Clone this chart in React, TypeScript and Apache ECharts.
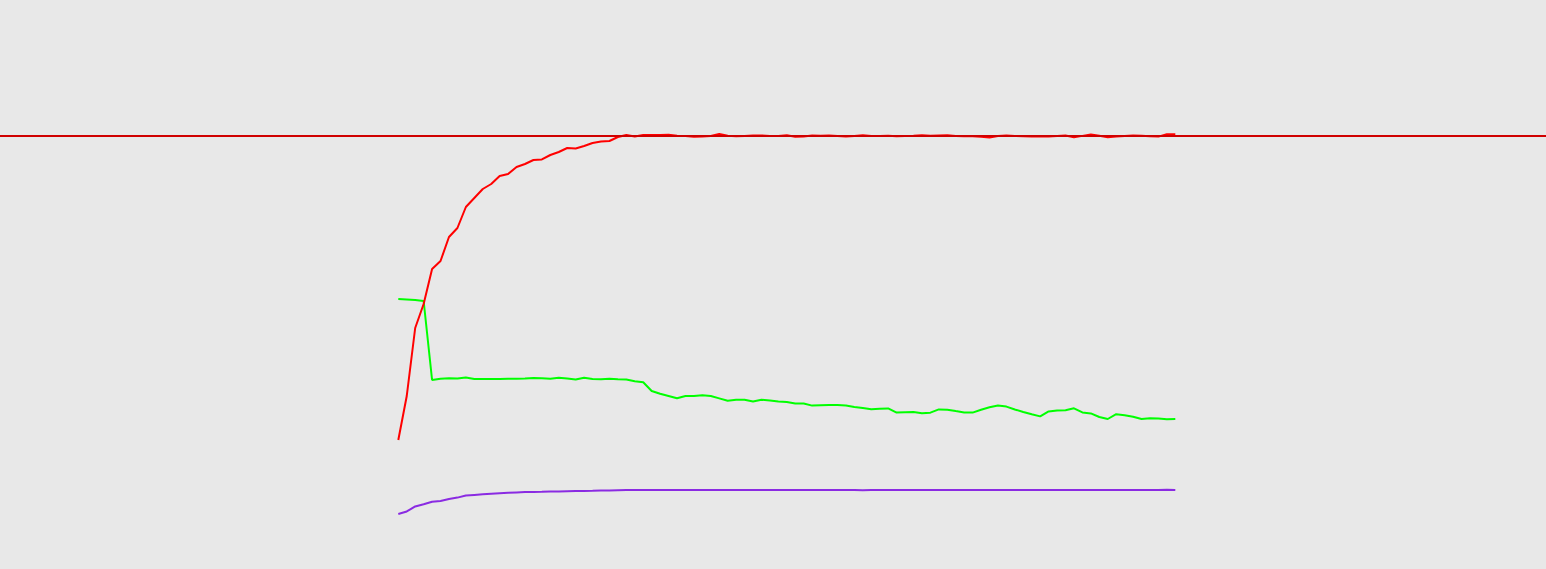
import React, { useEffect, useRef } from "react";
import * as echarts from "echarts";

const epochs: number[] = [
  1, 2, 3, 4, 5, 6, 7, 8, 9, 10, 11, 12, 13, 14, 15, 16, 17, 18, 19, 20,
  21, 22, 23, 24, 25, 26, 27, 28, 29, 30, 31, 32, 33, 34, 35, 36, 37, 38, 39, 40,
  41, 42, 43, 44, 45, 46, 47, 48, 49, 50, 51, 52, 53, 54, 55, 56, 57, 58, 59, 60,
  61, 62, 63, 64, 65, 66, 67, 68, 69, 70, 71, 72, 73, 74, 75, 76, 77, 78, 79, 80,
  81, 82, 83, 84, 85, 86, 87, 88, 89, 90, 91, 92, 93,
];

const redSeries: number[] = [
  24, 35, 52, 58, 66.75, 68.75, 74.75, 77, 82.25, 84.5,
  86.75, 88, 90, 90.5, 92.25, 93, 94, 94.13, 95.25, 96,
  97, 96.88, 97.5, 98.25, 98.63, 98.75, 99.75, 100.25, 99.88, 100.25,
  100.25, 100.25, 100.33, 100.05, 100, 99.8, 99.88, 100, 100.5, 100.05,
  99.95, 100, 100.1, 100.15, 100, 100, 100.18, 99.8, 99.88, 100.1,
  100.05, 100.13, 100, 99.9, 100, 100.18, 100, 100, 100.05, 99.93,
  99.98, 100.05, 100.18, 100.05, 100.13, 100.18, 100, 99.93, 99.93, 99.8,
  99.65, 100, 100.13, 100.03, 99.93, 99.9, 99.85, 99.85, 100, 100.1,
  99.68, 100.03, 100.35, 100.05, 99.7, 99.9, 100.03, 100.13, 100.08, 99.95,
  99.85, 100.45, 100.45,
];

const greenSeries: number[] = [
  59.25, 59.13, 59, 58.75, 39, 39.33, 39.43, 39.35, 39.65, 39.25,
  39.25, 39.25, 39.25, 39.33, 39.33, 39.35, 39.48, 39.43, 39.33, 39.55,
  39.38, 39.1, 39.55, 39.25, 39.2, 39.3, 39.18, 39.1, 38.7, 38.45,
  36.25, 35.55, 35, 34.45, 35, 35, 35.18, 35, 34.4, 33.8,
  34.05, 34.08, 33.63, 34.05, 33.88, 33.63, 33.5, 33.1, 33.13, 32.6,
  32.68, 32.75, 32.75, 32.6, 32.25, 32, 31.68, 31.8, 31.9, 30.85,
  30.95, 30.98, 30.68, 30.83, 31.65, 31.58, 31.23, 30.9, 30.85, 31.58,
  32.18, 32.6, 32.35, 31.63, 31, 30.43, 29.9, 31.15, 31.38, 31.45,
  31.93, 30.9, 30.65, 29.75, 29.25, 30.45, 30.2, 29.8, 29.25, 29.43,
  29.4, 29.18, 29.25,
];

const purpleSeries: number[] = [
  5.5, 6.13, 7.38, 7.93, 8.58, 8.75, 9.25, 9.6, 10.13, 10.28,
  10.43, 10.58, 10.7, 10.8, 10.9, 10.98, 11.03, 11.05, 11.1, 11.13,
  11.2, 11.25, 11.28, 11.3, 11.35, 11.38, 11.43, 11.48, 11.5, 11.48,
  11.5, 11.5, 11.48, 11.5, 11.5, 11.5, 11.48, 11.48, 11.5, 11.5,
  11.48, 11.5, 11.48, 11.5, 11.5, 11.48, 11.5, 11.5, 11.48, 11.48,
  11.5, 11.5, 11.48, 11.5, 11.5, 11.45, 11.48, 11.5, 11.5, 11.5,
  11.5, 11.48, 11.48, 11.5, 11.5, 11.5, 11.5, 11.5, 11.48, 11.48,
  11.5, 11.52, 11.5, 11.5, 11.5, 11.5, 11.5, 11.5, 11.5, 11.48,
  11.5, 11.5, 11.48, 11.5, 11.5, 11.5, 11.5, 11.5, 11.48, 11.5,
  11.5, 11.55, 11.5,
];

const referenceLevel = 100;

export default function App() {
  const ref = useRef<HTMLDivElement>(null);

  useEffect(() => {
    if (!ref.current) return;
    const chart = echarts.init(ref.current, undefined, { renderer: "svg" });
    const pairs = (vals: number[]) => vals.map((v, i) => [epochs[i], v]);
    chart.setOption({
      animation: false,
      backgroundColor: "#e8e8e8",
      grid: { left: 0, right: 0, top: 0, bottom: 0, containLabel: false },
      xAxis: {
        type: "value",
        min: -46.16,
        max: 136.89,
        show: false,
        splitLine: { show: false },
      },
      yAxis: {
        type: "value",
        min: -8.25,
        max: 134,
        show: false,
        splitLine: { show: false },
      },
      series: [
        {
          name: "purple",
          type: "line",
          data: pairs(purpleSeries),
          symbol: "none",
          lineStyle: { color: "#8a2be2", width: 2 },
          itemStyle: { color: "#8a2be2" },
        },
        {
          name: "green",
          type: "line",
          data: pairs(greenSeries),
          symbol: "none",
          lineStyle: { color: "#00ff00", width: 2 },
          itemStyle: { color: "#00ff00" },
        },
        {
          name: "red",
          type: "line",
          data: pairs(redSeries),
          symbol: "none",
          lineStyle: { color: "#ff0000", width: 2 },
          itemStyle: { color: "#ff0000" },
          markLine: {
            silent: true,
            symbol: "none",
            label: { show: false },
            lineStyle: { color: "#d00000", width: 2, type: "solid" },
            data: [{ yAxis: referenceLevel }],
          },
        },
      ],
    });
    return () => chart.dispose();
  }, []);

  return (
    <div
      ref={ref}
      style={{ position: "fixed", left: 0, top: 0, width: "1546px", height: "569px" }}
    />
  );
}
